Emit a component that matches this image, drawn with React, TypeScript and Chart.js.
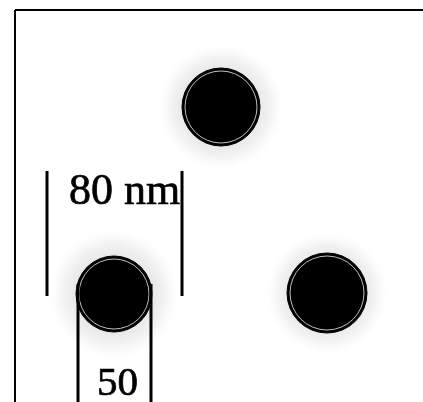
import React, { useEffect, useRef } from "react";
import { Chart, registerables } from "chart.js";

Chart.register(...registerables);

// Particle centres and radii (in image coordinate units)
const particleLabels = ["top", "left", "right"];
const particleX = [221, 114, 327];
const particleY = [107, 294, 293];
const particleR = [39, 38, 40];
const haloR = [62, 64, 60];

// Scale bar lines: [x, yStart, yEnd]
const bar80X = [47, 182];
const bar80Y = [171, 296];
const bar50X = [78, 151];
const bar50Y = [284, 405];

// Frame
const frameLeftX = 15;
const frameTopY = 10;

// Labels
const labelTexts = ["80 nm", "50"];
const labelX = [69, 97];
const labelY = [204, 395];
const labelSize = [44, 41];

const W = 423;
const H = 402;

export default function App() {
  const ref = useRef<HTMLCanvasElement | null>(null);

  useEffect(() => {
    if (!ref.current) return;

    const lineDs = (pts: { x: number; y: number }[], width: number, color = "#000") => ({
      type: "line" as const,
      data: pts,
      borderColor: color,
      borderWidth: width,
      pointRadius: 0,
      showLine: true,
      fill: false,
      tension: 0,
      clip: false as any,
      order: 0,
      borderCapStyle: "butt" as const,
    });

    const haloData = particleX.map((x, i) => ({ x, y: particleY[i], r: haloR[i] }));
    const discData = particleX.map((x, i) => ({ x, y: particleY[i], r: particleR[i] }));
    const ringData = particleX.map((x, i) => ({ x, y: particleY[i], r: particleR[i] - 3 }));

    const textPlugin = {
      id: "labels",
      afterDatasetsDraw(chart: any) {
        const { ctx, scales } = chart;
        ctx.save();
        ctx.fillStyle = "#000";
        ctx.strokeStyle = "#000";
        ctx.lineWidth = 0.7;
        ctx.textBaseline = "alphabetic";
        ctx.textAlign = "left";
        labelTexts.forEach((t, i) => {
          ctx.font = `${labelSize[i]}px "Liberation Serif", "Times New Roman", serif`;
          const px = scales.x.getPixelForValue(labelX[i]);
          const py = scales.y.getPixelForValue(labelY[i]);
          ctx.fillText(t, px, py);
          ctx.strokeText(t, px, py);
        });
        ctx.restore();
      },
    };

    const chart = new Chart(ref.current, {
      type: "bubble",
      data: {
        labels: particleLabels,
        datasets: [
          {
            type: "bubble",
            data: haloData,
            borderWidth: 0,
            order: 3,
            clip: false as any,
            backgroundColor: (c: any) => {
              const ch = c.chart;
              const raw = c.raw;
              if (!raw || !ch.scales || !ch.scales.x || !ch.scales.y) return "rgba(180,180,180,0.15)";
              const cx = ch.scales.x.getPixelForValue(raw.x);
              const cy = ch.scales.y.getPixelForValue(raw.y);
              if (!isFinite(cx) || !isFinite(cy)) return "rgba(180,180,180,0.15)";
              const g = ch.ctx.createRadialGradient(cx, cy, 30, cx, cy, raw.r);
              g.addColorStop(0, "rgba(150,150,150,0.3)");
              g.addColorStop(0.6, "rgba(170,170,170,0.15)");
              g.addColorStop(1, "rgba(200,200,200,0)");
              return g;
            },
          } as any,
          {
            type: "bubble",
            data: discData,
            backgroundColor: "#000",
            borderColor: "#000",
            borderWidth: 1,
            order: 2,
            clip: false as any,
          } as any,
          {
            type: "bubble",
            data: ringData,
            backgroundColor: "rgba(0,0,0,0)",
            borderColor: "rgba(210,210,210,0.9)",
            borderWidth: 1,
            order: 1,
            clip: false as any,
          } as any,
          lineDs([{ x: frameLeftX, y: frameTopY }, { x: frameLeftX, y: H + 5 }], 2),
          lineDs([{ x: frameLeftX, y: frameTopY }, { x: W + 5, y: frameTopY }], 2),
          lineDs([{ x: bar80X[0], y: bar80Y[0] }, { x: bar80X[0], y: bar80Y[1] }], 3),
          lineDs([{ x: bar80X[1], y: bar80Y[0] }, { x: bar80X[1], y: bar80Y[1] }], 3),
          lineDs([{ x: bar50X[0], y: bar50Y[0] }, { x: bar50X[0], y: bar50Y[1] }], 3),
          lineDs([{ x: bar50X[1], y: bar50Y[0] }, { x: bar50X[1], y: bar50Y[1] }], 3),
        ] as any,
      },
      options: {
        responsive: false,
        animation: false,
        maintainAspectRatio: false,
        layout: { padding: 0, autoPadding: false },
        plugins: { legend: { display: false }, tooltip: { enabled: false }, title: { display: false } },
        events: [],
        scales: {
          x: { type: "linear", min: 0, max: W, display: false },
          y: { type: "linear", min: 0, max: H, reverse: true, display: false },
        },
      } as any,
      plugins: [textPlugin],
    });

    return () => chart.destroy();
  }, []);

  return (
    <div style={{ position: "fixed", left: 0, top: 0, width: W, height: H, background: "#fff" }}>
      <canvas ref={ref} width={W} height={H} style={{ width: W, height: H, display: "block" }} />
    </div>
  );
}
